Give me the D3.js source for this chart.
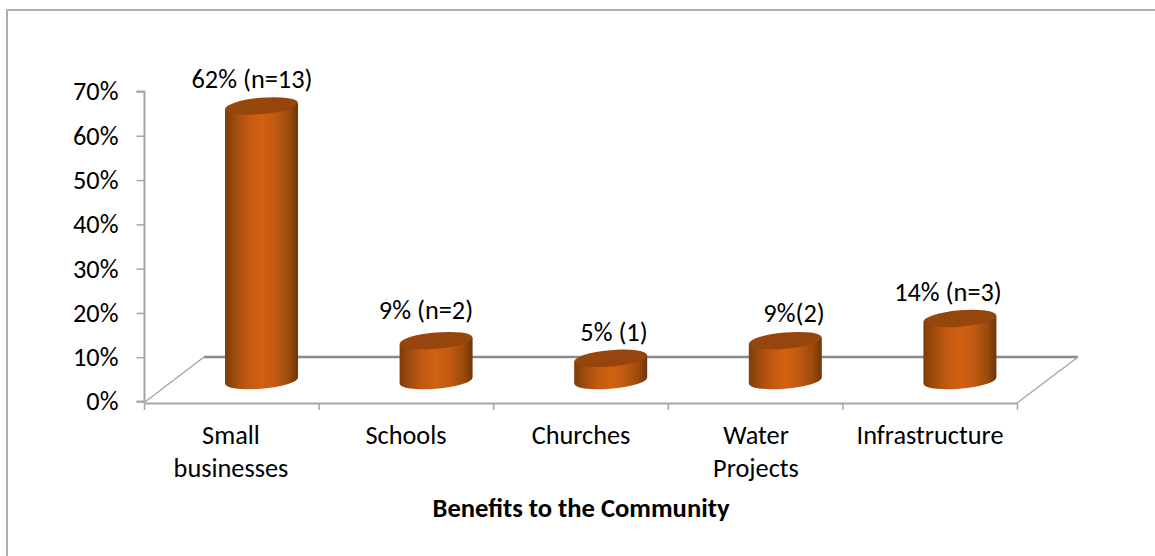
<!DOCTYPE html>
<html><head><meta charset="utf-8">
<script src="https://cdn.jsdelivr.net/npm/d3@7"></script>
<style>html,body{margin:0;padding:0;background:#fff}svg{display:block}text{font-family:Carlito,Calibri,"Open Sans","Noto Sans",sans-serif;fill:#000}</style>
</head><body><svg id="c" width="1155" height="556"></svg>
<script>
const categories = [["Small","businesses"],["Schools"],["Churches"],["Water","Projects"],["Infrastructure"]];
const values = [62,9,5,9,14];
const labels = ["62% (n=13)","9% (n=2)","5% (1)","9%(2)","14% (n=3)"];
const yTicks = [0,10,20,30,40,50,60,70];
const axisTitle = "Benefits to the Community";

const svg = d3.select("#c");
const grey = "#a6a6a6", dark = "#8c8c8c", fs = "26.3px";
svg.append("path").attr("d","M7,556V10H1155").attr("fill","none").attr("stroke","#b0b0b0").attr("stroke-width",2);

const y = d3.scaleLinear().domain([0,70]).range([401.5,91.5]);
const x = d3.scaleBand().domain(d3.range(5)).range([144.5,1017.5]).padding(0);
const barH = d3.scaleLinear().domain([0,70]).range([0,310]);

const defs = svg.append("defs");
const g = defs.append("linearGradient").attr("id","cyl");
[[0,"#7f3c0a"],[.12,"#9a4a0c"],[.32,"#c25a11"],[.5,"#d26112"],[.68,"#c25a11"],[.88,"#9a4a0c"],[1,"#6e3408"]]
 .forEach(([o,c])=>g.append("stop").attr("offset",o).attr("stop-color",c));

// floor
const floor = svg.append("g").attr("fill","none");
floor.append("line").attr("x1",204).attr("x2",1078).attr("y1",357).attr("y2",357).attr("stroke",dark).attr("stroke-width",2.5);
floor.append("path").attr("d","M145,402L204,357M1017,403L1078,357").attr("stroke",grey).attr("stroke-width",1.5);

// y axis
const ya = svg.append("g").attr("transform","translate(144.5,0)")
  .call(d3.axisLeft(y).tickValues(yTicks).tickFormat(d=>d+"%").tickSize(8).tickPadding(18));
ya.select(".domain").attr("stroke",grey).attr("stroke-width",2).attr("d","M-8,91.5H0V401.5H-8");
ya.selectAll(".tick line").attr("stroke",grey).attr("stroke-width",1.5);
ya.selectAll("text").style("font-size",fs).attr("font-family",null);

// x axis
const xa = svg.append("g").attr("transform","translate(0,403)")
  .call(d3.axisBottom(x).tickValues([]).tickSizeOuter(0));
xa.select(".domain").attr("stroke",grey).attr("stroke-width",2);
xa.selectAll(".cat").data(d3.range(6)).join("line").attr("class","cat")
  .attr("x1",d=>d<5?x(d):x.range()[1]).attr("x2",d=>d<5?x(d):x.range()[1]).attr("y1",0).attr("y2",7)
  .attr("stroke",grey).attr("stroke-width",1.5);

// cylinders
const rx = 36.5, ry = 8.2, rot = -5, tilt = 3, depth = 29.7;
const labelX = [252,426,614,794,948], labelY = [88,319,341,322,301];
const bars = svg.append("g");
values.forEach((v,i)=>{
  const cx = x(i)+x.bandwidth()/2+depth;
  const by = 380.5, ty = by - barH(v);
  const L = cx-rx, R = cx+rx;
  bars.append("path").attr("fill","url(#cyl)")
    .attr("d",`M${L},${ty+tilt}L${L},${by+tilt}A${rx},${ry} ${rot} 0 0 ${R},${by-tilt}L${R},${ty-tilt}Z`);
  bars.append("ellipse").attr("cx",cx).attr("cy",ty).attr("rx",rx).attr("ry",ry)
    .attr("transform",`rotate(${rot} ${cx} ${ty})`).attr("fill","#96460c");
  bars.append("text").attr("x",labelX[i]).attr("y",labelY[i]).attr("text-anchor","middle")
    .style("font-size",fs).text(labels[i]);
});

// category labels
const catX = [231,406,581,756,930];
categories.forEach((c,i)=>{
  c.forEach((t,j)=>svg.append("text").attr("x",catX[i]).attr("y",444+j*33).attr("text-anchor","middle").style("font-size",fs).text(t));
});
svg.append("text").attr("x",581).attr("y",517).attr("text-anchor","middle").style("font-size","26.6px").style("font-weight","bold").text(axisTitle);
</script></body></html>
